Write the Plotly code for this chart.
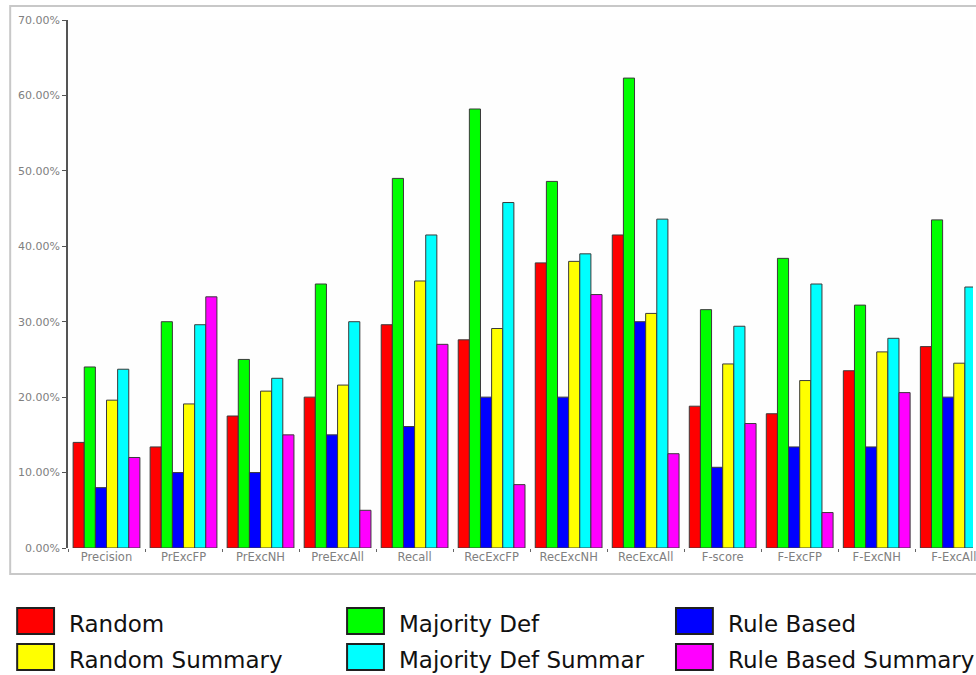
import plotly.graph_objects as go

categories = ["Precision", "PrExcFP", "PrExcNH", "PreExcAll", "Recall", "RecExcFP",
              "RecExcNH", "RecExcAll", "F-score", "F-ExcFP", "F-ExcNH", "F-ExcAll"]

series_names = ["Random", "Majority Def", "Rule Based",
                "Random Summary", "Majority Def Summar", "Rule Based Summary"]
series_colors = ["#ff0000", "#00ff00", "#0000ff", "#ffff00", "#00ffff", "#ff00ff"]

random_vals = [14.0, 13.4, 17.5, 20.0, 29.6, 27.6, 37.8, 41.5, 18.8, 17.8, 23.5, 26.7]
majority_def = [24.0, 30.0, 25.0, 35.0, 49.0, 58.2, 48.6, 62.3, 31.6, 38.4, 32.2, 43.5]
rule_based = [8.0, 10.0, 10.0, 15.0, 16.1, 20.0, 20.0, 30.0, 10.7, 13.4, 13.4, 20.0]
random_summary = [19.6, 19.1, 20.8, 21.6, 35.4, 29.1, 38.0, 31.1, 24.4, 22.2, 26.0, 24.5]
majority_def_summar = [23.7, 29.6, 22.5, 30.0, 41.5, 45.8, 39.0, 43.6, 29.4, 35.0, 27.8, 34.6]
rule_based_summary = [12.0, 33.3, 15.0, 5.0, 27.0, 8.4, 33.6, 12.5, 16.5, 4.7, 20.6, 10.0]

series_values = [random_vals, majority_def, rule_based,
                 random_summary, majority_def_summar, rule_based_summary]

y_ticks = [0, 10, 20, 30, 40, 50, 60, 70]
y_tick_labels = [f"{v:.2f}%" for v in y_ticks]

W, H = 976, 675
ML, MT, MB, MR = 68, 20, 127, 0
PW, PH = W - ML - MR, H - MT - MB


def px(x, y):
    return (x - ML) / PW, (H - MB - y) / PH


fig = go.Figure()
for name, color, vals in zip(series_names, series_colors, series_values):
    fig.add_trace(go.Bar(
        x=categories, y=vals, name=name,
        marker=dict(color=color, line=dict(color="#3a3a3a", width=1)),
        showlegend=False,
    ))

shapes = []
annotations = []
# outer frame
fx0, fy0 = px(10, 6)
fx1, fy1 = px(990, 574)
shapes.append(dict(type="rect", xref="paper", yref="paper", x0=fx0, y0=fy1, x1=fx1, y1=fy0,
                   line=dict(color="#c8c8c8", width=2), fillcolor="rgba(0,0,0,0)", layer="below"))

# custom legend
col_x = [17, 348, 678]
row_y = [608, 644]
for i, (name, color) in enumerate(zip(series_names, series_colors)):
    c, r = i % 3, i // 3
    bx0, by0 = px(col_x[c], row_y[r])
    bx1, by1 = px(col_x[c] + 37, row_y[r] + 26)
    shapes.append(dict(type="rect", xref="paper", yref="paper", x0=bx0, y0=by1, x1=bx1, y1=by0,
                       fillcolor=color, line=dict(color="#202020", width=2)))
    tx, ty = px(col_x[c] + 50, row_y[r] + 16)
    annotations.append(dict(xref="paper", yref="paper", x=tx, y=ty, text=name, showarrow=False,
                            xanchor="left", yanchor="middle",
                            font=dict(family="DejaVu Sans", size=23, color="#111111")))

fig.update_layout(
    width=W, height=H,
    margin=dict(l=ML, r=MR, t=MT, b=MB),
    paper_bgcolor="white", plot_bgcolor="#fefefe",
    barmode="group", bargap=0.133, bargroupgap=0.0,
    shapes=shapes, annotations=annotations,
    showlegend=False,
    xaxis=dict(range=[-0.5, 11.25], showgrid=False, zeroline=False, showline=False,
               ticks="outside", tickson="boundaries", ticklen=3, tickcolor="#666666",
               tickfont=dict(family="DejaVu Sans", size=11.5, color="#808080")),
    yaxis=dict(range=[0, 70], tickmode="array", tickvals=y_ticks, ticktext=y_tick_labels,
               showgrid=False, zeroline=False, showline=True, linecolor="#555555", linewidth=1.5,
               ticks="outside", ticklen=4, tickcolor="#555555",
               tickfont=dict(family="DejaVu Sans", size=11, color="#808080")),
)

fig.write_html("out.html", config={"displayModeBar": False},
               post_script="document.body.style.margin='0';document.body.style.overflow='hidden';")
